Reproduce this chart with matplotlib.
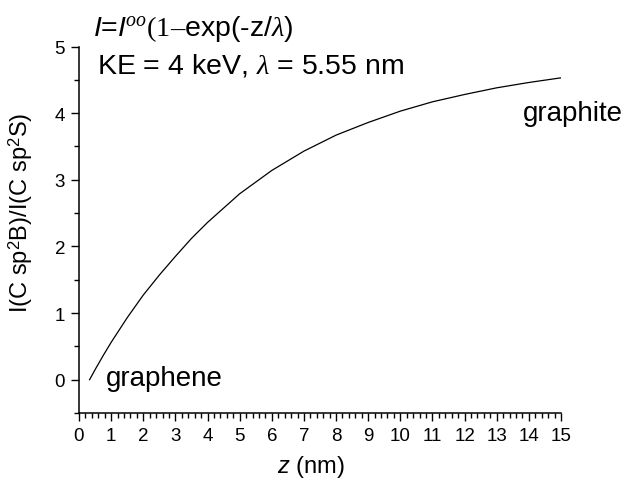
import matplotlib
matplotlib.use("Agg")
import matplotlib.pyplot as plt
from matplotlib.ticker import MultipleLocator

plt.rcParams['font.family'] = ['Liberation Sans', 'DejaVu Sans']
plt.rcParams['mathtext.fontset'] = 'custom'
plt.rcParams['mathtext.rm'] = 'Liberation Serif'
plt.rcParams['mathtext.it'] = 'Liberation Serif:italic'
plt.rcParams['mathtext.sf'] = 'Liberation Sans:italic'

# data
z_nm = [0.33, 0.5, 0.75, 1, 1.5, 2, 2.5, 3, 3.5, 4, 5, 6, 7, 8, 9, 10, 11, 12, 13, 14, 15]
ratio = [0.00, 0.15, 0.36, 0.56, 0.93, 1.27, 1.57, 1.85, 2.12, 2.36, 2.79, 3.14, 3.43,
         3.67, 3.86, 4.03, 4.17, 4.28, 4.38, 4.46, 4.53]
x_ticks = list(range(0, 16))
y_ticks = [0, 1, 2, 3, 4, 5]

fig = plt.figure(figsize=(6.31, 4.81), dpi=100)
ax = fig.add_axes([79/631, 1-414/481, (561-79)/631, (414-47.5)/481])

ax.plot(z_nm, ratio, color='black', lw=0.9)

ax.set_xlim(0, 15)
ax.set_ylim(-0.5, 5)
ax.set_xticks(x_ticks)
ax.set_yticks(y_ticks)
ax.xaxis.set_minor_locator(MultipleLocator(0.2))
ax.yaxis.set_minor_locator(MultipleLocator(0.5))
for s in ['top', 'right']:
    ax.spines[s].set_visible(False)
for s in ['left', 'bottom']:
    ax.spines[s].set_linewidth(1.1)
ax.tick_params(which='major', direction='out', length=6, width=1.0, labelsize=13.5, pad=4)
ax.tick_params(which='minor', direction='out', length=3.5, width=1.0)

ax.set_xlabel(r'$\mathsf{z}$ (nm)', fontsize=17)
ax.xaxis.label.set_va('baseline')
ax.xaxis.set_label_coords((311-79)/482, (414-473)/366.5)
ax.set_ylabel(r'I(C sp$^{\mathregular{2}}$B)/I(C sp$^{\mathregular{2}}$S)', fontsize=17)
ax.yaxis.label.set_va('center')
ax.yaxis.set_label_coords((21-79)/482, 0.55)

ax.text(0.45, 5.18, r'$\mathsf{I}$=$\mathsf{I}^{\mathit{oo}}$$\mathrm{(1–}$exp(-z/$\mathit{\lambda}$)',
        fontsize=20.5, va='baseline', ha='left', clip_on=False)
ax.text(0.575, 4.61, r'KE = 4 keV, $\mathit{\lambda}$ = 5.55 nm', fontsize=20.5,
        va='baseline', ha='left')
ax.text(0.845, -0.075, 'graphene', fontsize=20, va='baseline', ha='left')
ax.text(13.8, 3.90, 'graphite', fontsize=20, va='baseline', ha='left', clip_on=False)

fig.savefig('out.png', dpi=100)
